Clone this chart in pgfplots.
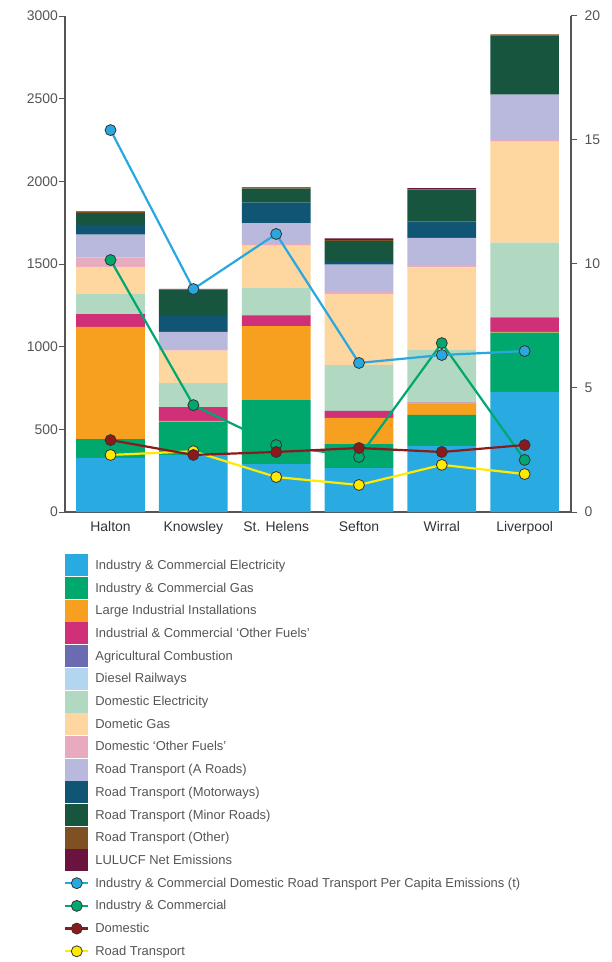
\documentclass[border=0pt]{standalone}
\usepackage{pgfplots}
\pgfplotsset{compat=1.18}
\usepackage{fontspec}
\setmainfont{Liberation Sans}
\definecolor{cA}{HTML}{29ABE2}
\definecolor{cB}{HTML}{00A86E}
\definecolor{cC}{HTML}{F79F1F}
\definecolor{cD}{HTML}{D03078}
\definecolor{cE}{HTML}{6A6BB0}
\definecolor{cF}{HTML}{B3D6F0}
\definecolor{cG}{HTML}{B1D8C0}
\definecolor{cH}{HTML}{FDD6A0}
\definecolor{cI}{HTML}{E8AABF}
\definecolor{cJ}{HTML}{B9B9DD}
\definecolor{cK}{HTML}{115574}
\definecolor{cL}{HTML}{17553F}
\definecolor{cM}{HTML}{7F5122}
\definecolor{cN}{HTML}{6A133E}
\definecolor{lnBlue}{HTML}{29A8E0}
\definecolor{lnGreen}{HTML}{00A870}
\definecolor{lnRed}{HTML}{8B1A1A}
\definecolor{lnYellow}{HTML}{FFEA00}
\definecolor{axgray}{HTML}{555555}
\definecolor{txgray}{HTML}{555555}
\pgfplotsset{
  barleg/.style={fill=#1, draw=none,
    legend image code/.code={\fill[#1] (0bp,-11bp) rectangle (23bp,11bp);}},
  lnstyle/.style={color=#1, line width=2.2bp, mark=*, mark size=5.5bp,
    mark options={fill=#1, draw=black!80, line width=0.8bp}},
  lnleg/.style={legend image code/.code={\path[draw=none, fill=none] (0bp,-11bp) rectangle (23bp,11bp);\draw[sharp plot, mark repeat=2, mark phase=2, color=#1, line width=2.2bp, mark=*, mark size=5.5bp, mark options={fill=#1, draw=black!80, line width=0.8bp}] plot coordinates {(0bp,0bp) (11.5bp,0bp) (23bp,0bp)};}},
}
\begin{document}
\begin{tikzpicture}
\path[use as bounding box] (-65bp,-450bp) rectangle (547bp,512bp);
\begin{axis}[
  scale only axis, width=506bp, height=496bp,
  ybar stacked, bar width=0.83,
  xmin=-0.55, xmax=5.56, ymin=0, ymax=3000,
  xtick={0,...,5},
  xticklabels={Halton,Knowsley,St. Helens,Sefton,Wirral,Liverpool},
  x tick style={draw=none},
  ytick={0,500,...,3000},
  axis x line*=bottom, axis y line*=left,
  axis line style={draw=axgray, line width=1.2bp, -},
  y tick style={draw=axgray, line width=1bp},
  tick align=outside, major tick length=6bp,
  yticklabel style={font=\fontsize{14}{16}\selectfont, text=txgray, xshift=2.5bp},
  xticklabel style={font=\fontsize{14}{16}\selectfont, text=black!80},
  /pgf/number format/assume math mode=true,
  /pgf/number format/1000 sep={},
  legend style={at={(axis description cs:-0.002,-0.085)}, anchor=north west,
    draw=none, fill=none, inner sep=0pt, row sep=0.7bp, column sep=4bp,
    font=\fontsize{13}{15}\selectfont, text=txgray,
    cells={anchor=west}},
  legend cell align=left,
]
\addplot[barleg=cA] coordinates {(0,328) (1,345) (2,290) (3,266) (4,399) (5,726)};
\addplot[barleg=cB] coordinates {(0,113) (1,201) (2,387) (3,145) (4,188) (5,359)};
\addplot[barleg=cC] coordinates {(0,678) (1,5) (2,448) (3,158) (4,70) (5,4)};
\addplot[barleg=cD] coordinates {(0,78) (1,84) (2,64) (3,42) (4,4) (5,88)};
\addplot[barleg=cE] coordinates {(0,0) (1,0) (2,0) (3,0) (4,0) (5,0)};
\addplot[barleg=cF] coordinates {(0,0) (1,0) (2,4) (3,0) (4,0) (5,0)};
\addplot[barleg=cG] coordinates {(0,121) (1,145) (2,164) (3,278) (4,320) (5,452)};
\addplot[barleg=cH] coordinates {(0,164) (1,196) (2,254) (3,431) (4,498) (5,611)};
\addplot[barleg=cI] coordinates {(0,58) (1,10) (2,10) (3,17) (4,16) (5,10)};
\addplot[barleg=cJ] coordinates {(0,137) (1,103) (2,127) (3,159) (4,163) (5,274)};
\addplot[barleg=cK] coordinates {(0,59) (1,98) (2,123) (3,22) (4,99) (5,0)};
\addplot[barleg=cL] coordinates {(0,72) (1,156) (2,85) (3,121) (4,190) (5,359)};
\addplot[barleg=cM] coordinates {(0,8) (1,4) (2,6) (3,6) (4,4) (5,6)};
\addplot[barleg=cN] coordinates {(0,2) (1,2) (2,3) (3,10) (4,8) (5,0)};
\addlegendentry{Industry \& Commercial Electricity}
\addlegendentry{Industry \& Commercial Gas}
\addlegendentry{Large Industrial Installations}
\addlegendentry{Industrial \& Commercial `Other Fuels'}
\addlegendentry{Agricultural Combustion}
\addlegendentry{Diesel Railways}
\addlegendentry{Domestic Electricity}
\addlegendentry{Dometic Gas}
\addlegendentry{Domestic `Other Fuels'}
\addlegendentry{Road Transport (A Roads)}
\addlegendentry{Road Transport (Motorways)}
\addlegendentry{Road Transport (Minor Roads)}
\addlegendentry{Road Transport (Other)}
\addlegendentry{LULUCF Net Emissions}
\addlegendimage{lnleg=lnBlue}
\addlegendentry{Industry \& Commercial Domestic Road Transport Per Capita Emissions (t)}
\addlegendimage{lnleg=lnGreen}
\addlegendentry{Industry \& Commercial}
\addlegendimage{lnleg=lnRed}
\addlegendentry{Domestic}
\addlegendimage{lnleg=lnYellow}
\addlegendentry{Road Transport}
\end{axis}
\begin{axis}[
  scale only axis, width=506bp, height=496bp,
  xmin=-0.55, xmax=5.56, ymin=0, ymax=20,
  ytick={0,5,...,20},
  axis y line*=right, axis x line=none,
  axis line style={draw=axgray, line width=1.2bp, -},
  y tick style={draw=axgray, line width=1bp},
  tick align=outside, major tick length=6bp,
  yticklabel style={font=\fontsize{14}{16}\selectfont, text=txgray, xshift=4bp},
  /pgf/number format/assume math mode=true,
]
\addplot[lnstyle=lnYellow] coordinates {(0,2.30) (1,2.45) (2,1.41) (3,1.09) (4,1.90) (5,1.53)};
\addplot[lnstyle=lnGreen] coordinates {(0,10.16) (1,4.31) (2,2.70) (3,2.22) (4,6.81) (5,2.10)};
\addplot[lnstyle=lnRed] coordinates {(0,2.90) (1,2.30) (2,2.42) (3,2.58) (4,2.42) (5,2.70)};
\addplot[lnstyle=lnBlue] coordinates {(0,15.40) (1,8.99) (2,11.21) (3,6.01) (4,6.33) (5,6.49)};
\end{axis}
\end{tikzpicture}
\end{document}
